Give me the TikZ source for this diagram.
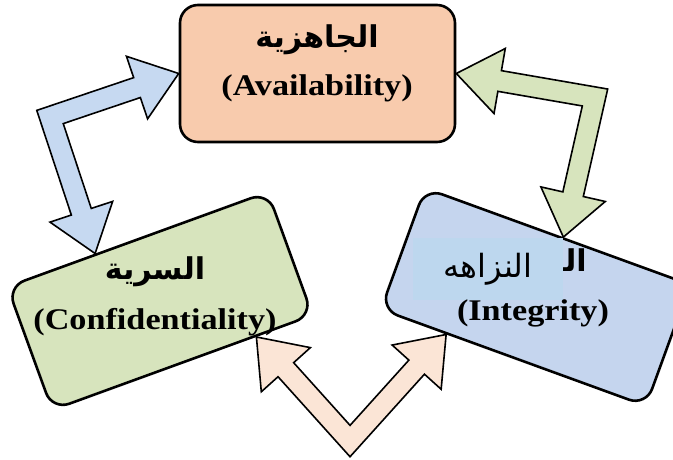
\documentclass[tikz,border=0pt]{standalone}
\usepackage{fontspec}
\setmainfont{Liberation Serif}[FakeStretch=1.14]
\newfontfamily\arabicfont[Script=Arabic]{DejaVu Sans}
\TeXXeTstate=1
\usetikzlibrary{calc}
\definecolor{availfill}{HTML}{F8CBAD}
\definecolor{conffill}{HTML}{D7E4BD}
\definecolor{integfill}{HTML}{C5D5EE}
\definecolor{patchfill}{HTML}{BDD7EE}
\definecolor{bluearrow}{HTML}{C6D9F1}
\definecolor{greenarrow}{HTML}{D7E4BD}
\definecolor{peacharrow}{HTML}{FBE5D6}
\newcommand{\shaftw}{10.5pt}
\newcommand{\headw}{33pt}
\newcommand{\headlen}{44pt}
\tikzset{
  pillar/.style   = {rectangle, rounded corners=18pt, draw=black, line width=2.6pt,
                     inner sep=0pt},
  entext/.style   = {font=\bfseries\fontsize{30}{36}\selectfont, inner sep=0pt},
  artext/.style   = {font=\arabicfont\bfseries\fontsize{30}{34}\selectfont, inner sep=0pt},
  patchtext/.style= {font=\arabicfont\fontsize{32}{36}\selectfont, inner sep=0pt},
  blockarr/.style = {draw=black, line width=1.6pt, line join=miter},
}
% bent double block arrow: #1 fill, #2 prefix, #3 tip a, #4 bend, #5 tip b
\newcommand{\bentarrow}[5]{%
  \coordinate (#2ha) at ($(#3)!\headlen!(#4)$);
  \coordinate (#2hb) at ($(#5)!\headlen!(#4)$);
  \coordinate (#2sl) at ($(#2ha)!\shaftw!90:(#3)$);
  \coordinate (#2sr) at ($(#2ha)!\shaftw!-90:(#3)$);
  \coordinate (#2wl) at ($(#2ha)!\headw!90:(#3)$);
  \coordinate (#2wr) at ($(#2ha)!\headw!-90:(#3)$);
  \coordinate (#2pl) at ($(#4)!\shaftw!90:(#3)$);
  \coordinate (#2pr) at ($(#4)!\shaftw!-90:(#3)$);
  \coordinate (#2tl) at ($(#2hb)!\shaftw!90:(#5)$);
  \coordinate (#2tr) at ($(#2hb)!\shaftw!-90:(#5)$);
  \coordinate (#2vl) at ($(#2hb)!\headw!90:(#5)$);
  \coordinate (#2vr) at ($(#2hb)!\headw!-90:(#5)$);
  \coordinate (#2ql) at ($(#4)!\shaftw!90:(#5)$);
  \coordinate (#2qr) at ($(#4)!\shaftw!-90:(#5)$);
  \coordinate (#2x) at (intersection of #2sl--#2pl and #2tr--#2qr);
  \coordinate (#2y) at (intersection of #2tl--#2ql and #2sr--#2pr);
  \draw[blockarr, fill=#1] (#3) -- (#2wl) -- (#2sl) -- (#2x) -- (#2tr) -- (#2vr)
    -- (#5) -- (#2vl) -- (#2tl) -- (#2y) -- (#2sr) -- (#2wr) -- cycle;
}

\begin{document}
\begin{tikzpicture}[x=1pt, y=-1pt]
  \useasboundingbox (0,0) rectangle (673,460);
  \clip (0,0) rectangle (673,460);

  % the three boxes
  \node[pillar, fill=availfill, minimum width=275pt, minimum height=137pt] (avail) at (317.5,73.5) {};
  \node[pillar, fill=conffill, minimum width=277pt, minimum height=131pt, rotate=20] (conf) at (160,301) {};
  \node[pillar, fill=integfill, minimum width=282pt, minimum height=129pt, rotate=-20] (integ) at (535.5,297) {};

  % where the arrows meet the boxes
  \coordinate (conftop)  at ($(conf.north west)!0.34!(conf.north east)$);
  \coordinate (confbot)  at ($(conf.south west)!0.78!(conf.south east)$);
  \coordinate (integtop) at ($(integ.north west)!0.52!(integ.north east)$);
  \coordinate (integbot) at ($(integ.south west)!0.25!(integ.south east)$);
  \coordinate (bluebend)  at (50,117);
  \coordinate (greenbend) at (595,97.5);
  \coordinate (peachbend) at (350,441);

  \bentarrow{bluearrow}{blue}{avail.west}{bluebend}{conftop}
  \bentarrow{greenarrow}{green}{avail.east}{greenbend}{integtop}
  \bentarrow{peacharrow}{peach}{confbot}{peachbend}{integbot}

  % labels
  \node[artext] (availar) at (317,40) {\beginR الجاهزية\endR};
  \node[entext] (availen) at (317,88) {(Availability)};
  \node[artext] (confar) at (155,272) {\beginR السرية\endR};
  \node[entext] (confen) at (155,322) {(Confidentiality)};
  \node[artext, anchor=east] (integar) at (587,264) {\beginR النزاهة\endR};
  \node[patchtext, fill=patchfill, minimum width=150pt, minimum height=62pt] (patch) at (488,269) {\beginR النزاهه\endR};
  \node[entext] (integen) at (533,313) {(Integrity)};
\end{tikzpicture}
\end{document}
